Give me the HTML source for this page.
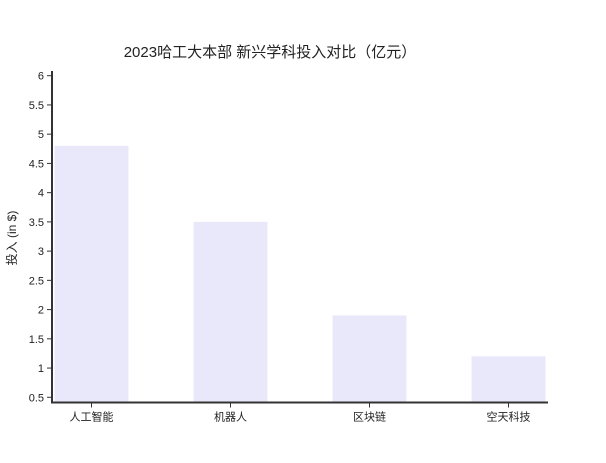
<!DOCTYPE html>
<html><head><meta charset="utf-8"><style>
body{margin:0;background:#fff;}
svg{display:block;font-family:"Liberation Sans","Noto Sans CJK SC",sans-serif;}
</style></head><body>
<svg id="chart" width="606" height="463">
<text x="270" y="57" text-anchor="middle" font-size="15" fill="#222">2023哈工大本部 新兴学科投入对比（亿元）</text>
<text transform="translate(16,238) rotate(-90)" text-anchor="middle" font-size="12" fill="#222">投入 (in $)</text>
<g id="bars"></g><g id="yaxis"></g><g id="xaxis"></g>
</svg>
<script>
const categories=["人工智能","机器人","区块链","空天科技"];
const values=[4.8,3.5,1.9,1.2];
const yTicks=[0.5,1,1.5,2,2.5,3,3.5,4,4.5,5,5.5,6];
const ns="http://www.w3.org/2000/svg";
const x0=52,x1=548,yBot=402.5;
function y(v){return 397.3-(v-0.5)*(397.3-75.7)/5.5;}
const band=139,bandStart=22;
function xc(i){return bandStart+band*(i+0.5);}
const bw=74;
function mk(t,a,p){const e=document.createElementNS(ns,t);for(const k in a)e.setAttribute(k,a[k]);p.appendChild(e);return e;}
const bars=document.getElementById('bars'),ya=document.getElementById('yaxis'),xa=document.getElementById('xaxis');
values.forEach((v,i)=>{
 const r=mk('rect',{x:xc(i)-bw/2,y:y(v),width:bw,height:yBot-y(v),fill:'#e8e8fa'},bars);
 
 
 mk('line',{x1:xc(i),x2:xc(i),y1:yBot,y2:yBot+5,stroke:'#333'},xa);
 const t=mk('text',{x:xc(i),y:yBot+18,'text-anchor':'middle','font-size':11,fill:'#222'},xa);
 t.textContent=categories[i];
 
 
});
yTicks.forEach(v=>{
 mk('line',{x1:x0-5,x2:x0,y1:y(v),y2:y(v),stroke:'#333'},ya);
 const t=mk('text',{x:x0-8,y:y(v)+4,'text-anchor':'end','font-size':11,fill:'#222'},ya);
 t.textContent=v;
 
 
});
const yl=mk('line',{x1:x0,x2:x0,y1:71,y2:yBot+1,stroke:'#333','stroke-width':2},ya);


const xl=mk('line',{x1:x0-1,x2:x1,y1:yBot,y2:yBot,stroke:'#333','stroke-width':2},xa);


</script>
</body></html>
